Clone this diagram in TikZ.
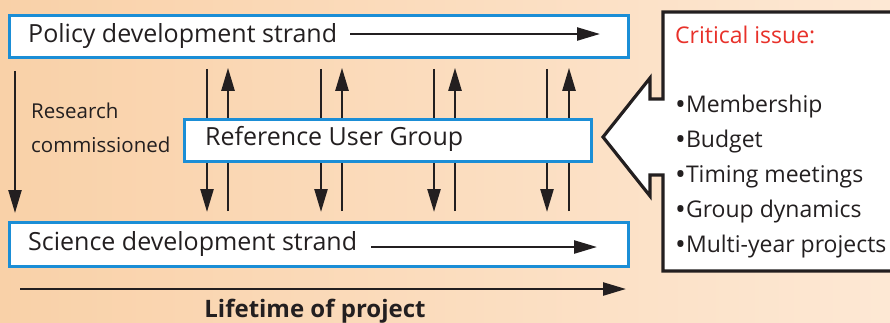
\documentclass[tikz,border=0pt]{standalone}
\usepackage{fontspec}
\usepackage{graphicx}
\setmainfont{Open Sans}
\usetikzlibrary{arrows.meta,calc}
\definecolor{boxblue}{HTML}{1B8ED6}
\definecolor{critred}{HTML}{E8312A}
\definecolor{bgleft}{HTML}{F9D1A8}
\definecolor{bgright}{HTML}{FDE8D4}
\definecolor{ink}{HTML}{231F20}
\newcommand\mybul{\raisebox{-2.5pt}{\scalebox{1.25}{•}}}
\tikzset{
  strandbox/.style={draw=boxblue,line width=2.8pt,fill=white,inner sep=0pt,anchor=north west},
  lbl/.style={anchor=base west,inner sep=0pt,text=ink,font=\fontsize{25}{29}\selectfont},
  calllbl/.style={lbl,font=\fontsize{23}{28}\selectfont},
  arr/.style={draw=ink,line width=2.4pt,-{Triangle[length=23pt,width=13pt]}},
}
\begin{document}
\begin{tikzpicture}[x=1pt,y=-1pt]
\useasboundingbox (0,0) rectangle (890,322);
\shade[left color=bgleft,right color=bgright] (0,0) rectangle (890,322);
% boxes
\node[strandbox,minimum width=619pt,minimum height=42pt] (policy) at (8,14) {};
\node[strandbox,minimum width=619pt,minimum height=44pt] (science) at (8,221) {};
\node[lbl] (ptext) at (28,42) {Policy development strand};
\node[lbl] (stext) at (28,250) {Science development strand};
\coordinate (pend) at (600,34);
\coordinate (send) at (597,247);
\draw[arr] (ptext.east |- pend) ++(13,0) -- (pend);
\draw[arr] (stext.east |- send) ++(14,0) -- (send);
% vertical arrows
\foreach \x in {207,321,434,547}{
  \draw[arr,shorten <=10pt,shorten >=9pt] (policy.south -| \x,0) -- (science.north -| \x,0);
}
\foreach \x in {228,342,455,569}{
  \draw[arr,shorten <=10pt,shorten >=9pt] (science.north -| \x,0) -- (policy.south -| \x,0);
}
% research commissioned
\draw[arr,shorten <=12pt,shorten >=8pt] (policy.south -| 15,0) -- (science.north -| 15,0);
\node[lbl,font=\fontsize{20.5}{24}\selectfont] (rc1) at (31,118) {Research};
\node[lbl,font=\fontsize{20.5}{24}\selectfont] (rc2) at (31,152) {commissioned};
% RUG
\node[strandbox,minimum width=407pt,minimum height=42pt] (rug) at (183,118) {};
\node[lbl] (rtext) at (205,145) {Reference User Group};
% lifetime
\coordinate (ls) at (20,289);
\coordinate (le) at (626,289);
\draw[arr] (ls) -- (le);
\node[anchor=base,inner sep=0pt,text=ink,font=\fontsize{24}{28}\selectfont\bfseries] (life) at (315,317) {Lifetime of project};
% callout
\draw[draw=ink,fill=white,line width=3.2pt,line join=miter]
  (895,12) -- (663,12) -- (663,99) -- (650,99) -- (650,78) -- (603,137)
  -- (650,196) -- (650,175) -- (663,175) -- (663,271) -- (895,271);
\node[calllbl,text=critred] (crit) at (675,43) {Critical issue:};
\node[calllbl] (b1) at (675,112) {\mybul Membership};
\node[calllbl] (b2) at (675,147) {\mybul Budget};
\node[calllbl] (b3) at (675,182) {\mybul Timing meetings};
\node[calllbl] (b4) at (675,217) {\mybul Group dynamics};
\node[calllbl] (b5) at (675,252) {\mybul Multi-year projects};
\end{tikzpicture}
\end{document}
